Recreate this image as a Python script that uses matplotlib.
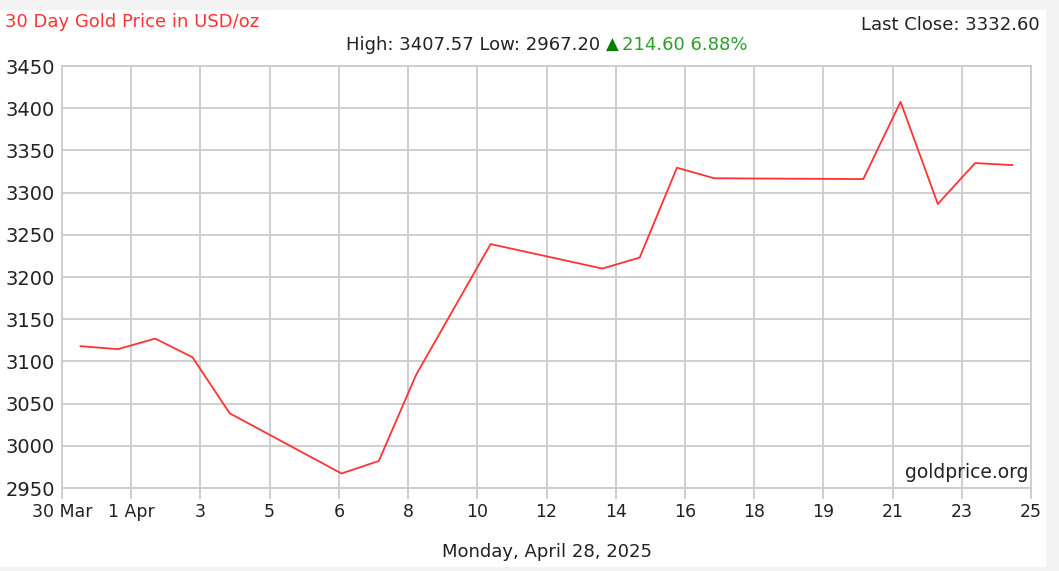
import matplotlib
matplotlib.use("Agg")
import matplotlib.pyplot as plt
import matplotlib.dates as mdates
from matplotlib.patches import Rectangle
import numpy as np
import pandas as pd

# ---- data ----
dates = pd.to_datetime([
    "2025-03-31", "2025-04-01", "2025-04-02", "2025-04-03", "2025-04-04",
    "2025-04-07", "2025-04-08", "2025-04-09", "2025-04-11", "2025-04-14",
    "2025-04-15", "2025-04-16", "2025-04-17", "2025-04-21", "2025-04-22",
    "2025-04-23", "2025-04-24", "2025-04-25",
])
prices = [3118.0, 3114.5, 3127.0, 3105.0, 3038.5,
          2967.2, 2982.0, 3084.0, 3239.0, 3210.0,
          3223.0, 3329.5, 3317.0, 3316.0, 3407.57,
          3286.5, 3335.0, 3332.6]
x_tick_labels = ["30 Mar", "1 Apr", "3", "5", "6", "8", "10", "12", "14",
                 "16", "18", "19", "21", "23", "25"]
y_ticks = [2950, 3000, 3050, 3100, 3150, 3200, 3250, 3300, 3350, 3400, 3450]
x_start = pd.Timestamp("2025-03-30 12:00")
x_end = pd.Timestamp("2025-04-25 12:00")

title = "30 Day Gold Price in USD/oz"
stats_text = "High: 3407.57 Low: 2967.20 "
change_text = "214.60 6.88%"
last_close = "Last Close: 3332.60"
footer = "Monday, April 28, 2025"
brand = "goldprice.org"

# ---- figure ----
W, H = 1059, 571
fig = plt.figure(figsize=(W / 100, H / 100), dpi=100, facecolor="#f3f3f3")
fig.patches.append(Rectangle((0, (H - 567) / H), 1046 / W, 557 / H,
                             transform=fig.transFigure, facecolor="white",
                             edgecolor="none", zorder=-5))

ax = fig.add_axes([62 / W, (H - 488) / H, (1031 - 62) / W, (488 - 66) / H])
ax.set_facecolor("white")

ax.plot(dates, prices, color="#ff3333", lw=1.3, zorder=3)

xs = mdates.date2num(x_start)
xe = mdates.date2num(x_end)
ax.set_xlim(xs, xe)
ax.set_ylim(2950, 3450)
ax.set_xticks(np.linspace(xs, xe, len(x_tick_labels)))
ax.set_xticklabels(x_tick_labels, fontsize=12.5, color="#222222")
ax.set_yticks(y_ticks)
ax.set_yticklabels([str(v) for v in y_ticks], fontsize=14, color="#222222")

ax.grid(True, color="#cccccc", lw=1.3, zorder=1)
for s in ax.spines.values():
    s.set_color("#cccccc")
    s.set_linewidth(1.3)
ax.tick_params(axis="x", length=8, width=1.3, color="#cccccc", pad=3)
ax.tick_params(axis="y", length=0, pad=5)

ax.text(0.997, 0.015, brand, transform=ax.transAxes, ha="right", va="bottom",
        fontsize=13.5, color="#222222", zorder=4)

# ---- header texts ----
fs = 13
fig.text(5 / W, 1 - 22 / H, title, color="#ff3333", fontsize=fs,
         ha="left", va="center")
fig.text(1040 / W, 1 - 25 / H, last_close, color="#222222", fontsize=fs,
         ha="right", va="center")

t1 = fig.text(346 / W, 1 - 45 / H, stats_text, color="#222222", fontsize=fs,
              ha="left", va="center")
fig.canvas.draw()
bb = t1.get_window_extent()
t2 = fig.text(bb.x1 / W, 1 - 45 / H, "\u25B2", color="#008000", fontsize=12,
              ha="left", va="center")
fig.canvas.draw()
bb2 = t2.get_window_extent()
fig.text(bb2.x1 / W + 3 / W, 1 - 45 / H, change_text, color="#2e9e2e",
         fontsize=fs, ha="left", va="center")

fig.text(547 / W, 1 - 552 / H, footer, color="#222222", fontsize=fs,
         ha="center", va="center")

fig.savefig("out.png", dpi=100, facecolor=fig.get_facecolor())
